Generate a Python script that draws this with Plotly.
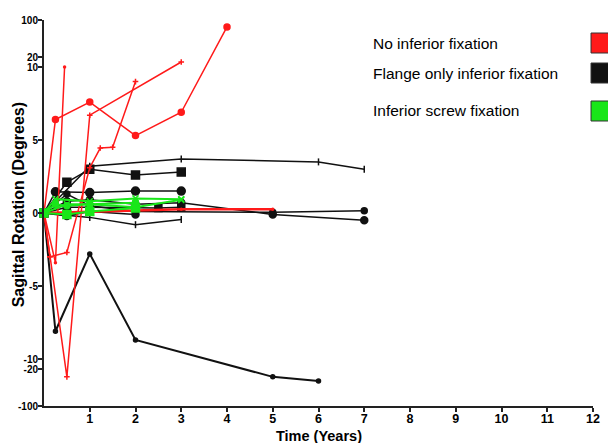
import plotly.graph_objects as go

# ---- data: time in years, sagittal rotation in degrees ----
# No inferior fixation
nf1_t = [0, 0.25, 1, 2, 3, 4]
nf1_deg = [0, 6.4, 7.6, 5.3, 6.9, 85]
nf2_t = [0, 0.13, 0.5, 1, 3]
nf2_deg = [0, -3.0, -37, 6.7, 15]
nf3_t = [0, 0.13, 0.5, 1, 1.23, 1.5, 2]
nf3_deg = [0, -3.0, -2.7, 3.1, 4.45, 4.5, 9.0]
nf4_t = [0, 0.25, 0.45]
nf4_deg = [0, -3.4, 10]
nf5_t = [0, 1, 2, 3, 5]
nf5_deg = [0, 0.1, 0.2, 0.25, 0.25]

# Flange only inferior fixation
fl1_t = [0, 1, 3, 6, 7]
fl1_deg = [0, 3.2, 3.7, 3.5, 3.0]
fl2_t = [0, 0.5, 1, 2, 3]
fl2_deg = [0, 2.1, 3.0, 2.6, 2.8]
fl3_t = [0, 0.25, 1, 2, 3]
fl3_deg = [0, 1.45, 1.4, 1.5, 1.5]
fl4_t = [0, 0.5, 1, 2, 3, 5, 7]
fl4_deg = [0, 0.8, 0.9, 0.6, 0.7, -0.1, -0.5]
fl5_t = [0, 0.5, 1, 2, 5, 7]
fl5_deg = [0, 1.3, 0.5, 0.1, 0.05, 0.15]
fl6_t = [0, 0.5, 1, 2]
fl6_deg = [0, -0.2, 0.1, -0.1]
fl7_t = [0, 0.5, 1, 2.5, 3]
fl7_deg = [0, 0.4, 0.4, 0.35, 0.4]
fl8_t = [0, 1, 2, 3]
fl8_deg = [0, -0.3, -0.8, -0.45]
fl9_t = [0, 0.25, 1, 2, 5, 6]
fl9_deg = [0, -8.1, -2.8, -8.7, -37, -46]

# Inferior screw fixation
sc1_t = [0, 0.25, 1, 2, 3]
sc1_deg = [0, 0.95, 0.8, 1.0, 0.95]
sc2_t = [0, 0.5, 1, 2, 3]
sc2_deg = [0, 0.6, 0.6, 0.4, 0.9]
sc3_t = [0, 0.5, 1, 2]
sc3_deg = [0, -0.1, 0.1, 0.35]
sc4_t = [0, 0.25, 0.5, 1, 2]
sc4_deg = [0, 0.6, 0.5, 0.6, 0.7]

y_tick_vals = [100, 20, 10, 5, 0, -5, -10, -20, -100]
x_tick_vals = list(range(1, 13))

group_names = ["No inferior fixation", "Flange only inferior fixation", "Inferior screw fixation"]
group_colors = ["#ff1a1a", "#111111", "#19e619"]


# ---- broken y-axis: -10..10 linear, compressed segments beyond ----
def to_axis(v):
    s = 1 if v >= 0 else -1
    a = abs(v)
    if a <= 10:
        d = a
    elif a <= 20:
        d = 10 + (a - 10) * 0.0685
    else:
        d = 10.685 + (a - 20) * (2.534 / 80)
    return s * d


fig = go.Figure()


def add_series(t, deg, color, symbol, size, width=1.5):
    fig.add_trace(go.Scatter(
        x=t, y=[to_axis(v) for v in deg], mode="lines+markers",
        line=dict(color=color, width=width),
        marker=dict(symbol=symbol, size=size, color=color,
                    line=dict(color=color, width=1.5)),
        cliponaxis=False, showlegend=False, hoverinfo="skip",
    ))


red, black, green = group_colors

add_series(fl1_t, fl1_deg, black, "line-ns", 5)
add_series(fl2_t, fl2_deg, black, "square", 8)
add_series(fl3_t, fl3_deg, black, "circle", 8)
add_series(fl4_t, fl4_deg, black, "circle", 7)
add_series(fl5_t, fl5_deg, black, "circle", 6)
add_series(fl6_t, fl6_deg, black, "circle", 7)
add_series(fl7_t, fl7_deg, black, "square", 7)
add_series(fl8_t, fl8_deg, black, "line-ns", 5)
add_series(fl9_t, fl9_deg, black, "circle", 4, 2)

add_series(nf1_t, nf1_deg, red, "circle", 6)
add_series(nf2_t, nf2_deg, red, "cross-thin", 4)
add_series(nf3_t, nf3_deg, red, "cross-thin", 4)
add_series(nf4_t, nf4_deg, red, "circle", 2)
add_series(nf5_t, nf5_deg, red, "circle", 2, 2.5)

add_series(sc1_t, sc1_deg, green, "x-thin", 6, 2)
add_series(sc2_t, sc2_deg, green, "x-thin", 6, 2)
add_series(sc3_t, sc3_deg, green, "square", 8, 2)
add_series(sc4_t, sc4_deg, green, "circle", 6, 2)

fig.update_layout(
    width=608, height=443,
    margin=dict(l=44, r=8, t=20, b=37),
    paper_bgcolor="white", plot_bgcolor="white",
    font=dict(family="Liberation Sans, Arial, sans-serif", color="black"),
    xaxis=dict(
        range=[0, 12], tickvals=x_tick_vals,
        ticktext=[f"<b>{v}</b>" for v in x_tick_vals],
        tickfont=dict(size=12.5), showline=True, linewidth=2, linecolor="#222",
        ticks="outside", ticklen=4, tickwidth=1.5, tickcolor="#222",
        ticklabelstandoff=-4,
        showgrid=False, zeroline=False,
    ),
    yaxis=dict(
        range=[to_axis(-100), to_axis(100)],
        tickvals=[to_axis(v) for v in y_tick_vals],
        ticktext=[f"<b>{v}</b>" for v in y_tick_vals],
        tickfont=dict(size=10), showline=True, linewidth=2, linecolor="#222",
        ticks="outside", ticklen=4, tickwidth=1.5, tickcolor="#222",
        ticklabelstandoff=-2,
        showgrid=False, zeroline=False,
    ),
)

# axis titles
fig.add_annotation(text="<b>Time (Years)</b>", xref="paper", yref="paper",
                   x=(322 - 44) / 556, y=-30 / 386, xanchor="center", yanchor="middle",
                   showarrow=False, font=dict(size=14.5))
fig.add_annotation(text="<b>Sagittal Rotation (Degrees)</b>", xref="paper", yref="paper",
                   x=-26 / 556, y=(406 - 205) / 386, xanchor="center", yanchor="middle",
                   textangle=-90, showarrow=False, font=dict(size=16))

# key: label text with a colour swatch on its right
key_rows = [43, 73, 111]
for name, color, py in zip(group_names, group_colors, key_rows):
    yp = (406 - py) / 386
    fig.add_annotation(text=name, xref="paper", yref="paper",
                       x=(375 - 44) / 556, y=yp, xanchor="left", yanchor="middle",
                       showarrow=False, font=dict(size=15.5))
    fig.add_shape(type="rect", xref="paper", yref="paper",
                  x0=(598 - 44) / 556, x1=(620 - 44) / 556,
                  y0=yp - 10 / 386, y1=yp + 10 / 386,
                  fillcolor=color, line=dict(color="#333", width=1))

fig.write_html("out.html")
